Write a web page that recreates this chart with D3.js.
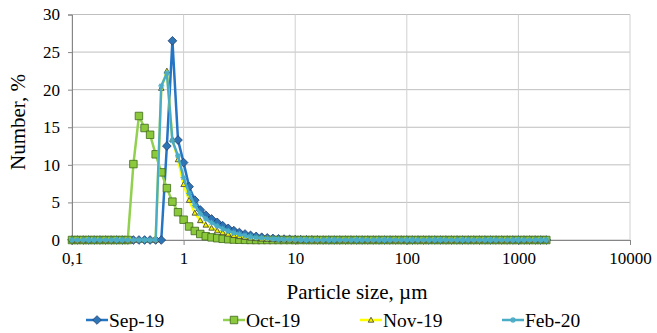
<!DOCTYPE html>
<html>
<head>
<meta charset="utf-8">
<script src="https://cdn.jsdelivr.net/npm/d3@7"></script>
<style>
  body { margin: 0; background: #fff; }
  svg { display: block; }
  text { font-family: "Liberation Serif", "Times New Roman", serif; fill: #000; }
</style>
</head>
<body>
<svg id="chart" width="657" height="333"></svg>
<script>
// Particle size bins (µm), 20 per decade
const sizes = [
  0.1, 0.112, 0.126, 0.141, 0.158, 0.178, 0.2, 0.224, 0.251, 0.282,
  0.316, 0.355, 0.398, 0.447, 0.501, 0.562, 0.631, 0.708, 0.794, 0.891,
  1, 1.12, 1.26, 1.41, 1.58, 1.78, 2, 2.24, 2.51, 2.82,
  3.16, 3.55, 3.98, 4.47, 5.01, 5.62, 6.31, 7.08, 7.94, 8.91,
  10, 11.2, 12.6, 14.1, 15.8, 17.8, 20, 22.4, 25.1, 28.2,
  31.6, 35.5, 39.8, 44.7, 50.1, 56.2, 63.1, 70.8, 79.4, 89.1,
  100, 112, 126, 141, 158, 178, 200, 224, 251, 282,
  316, 355, 398, 447, 501, 562, 631, 708, 794, 891,
  1000, 1122, 1259, 1413, 1585, 1778
];

// Number distribution (%) per sampling month
const sep19 = [
  0, 0, 0, 0, 0, 0, 0, 0, 0, 0,
  0, 0, 0, 0, 0, 0, 0, 12.5, 26.5, 13.3,
  10.3, 7.1, 5.3, 4.0, 3.3, 2.8, 2.35, 1.9, 1.55, 1.25,
  1.0, 0.8, 0.62, 0.48, 0.37, 0.28, 0.21, 0.16, 0.12, 0.09,
  0.06, 0.04, 0.03, 0.02, 0.01, 0, 0, 0, 0, 0,
  0, 0, 0, 0, 0, 0, 0, 0, 0, 0,
  0, 0, 0, 0, 0, 0, 0, 0, 0, 0,
  0, 0, 0, 0, 0, 0, 0, 0, 0, 0,
  0, 0, 0, 0, 0, 0
];
const oct19 = [
  0, 0, 0, 0, 0, 0, 0, 0, 0, 0,
  0, 10.1, 16.5, 14.9, 14.0, 11.4, 9.0, 6.9, 5.1, 3.7,
  2.7, 1.8, 1.2, 0.8, 0.5, 0.35, 0.24, 0.16, 0.1, 0.06,
  0.04, 0.02, 0.01, 0, 0, 0, 0, 0, 0, 0,
  0, 0, 0, 0, 0, 0, 0, 0, 0, 0,
  0, 0, 0, 0, 0, 0, 0, 0, 0, 0,
  0, 0, 0, 0, 0, 0, 0, 0, 0, 0,
  0, 0, 0, 0, 0, 0, 0, 0, 0, 0,
  0, 0, 0, 0, 0, 0
];
const nov19 = [
  0, 0, 0, 0, 0, 0, 0, 0, 0, 0,
  0, 0, 0, 0, 0, 0, 20.2, 22.5, 13.4, 10.7,
  7.4, 5.3, 3.6, 2.6, 2.0, 1.6, 1.25, 1.0, 0.8, 0.62,
  0.48, 0.37, 0.28, 0.21, 0.15, 0.11, 0.08, 0.05, 0.03, 0.02,
  0.01, 0, 0, 0, 0, 0, 0, 0, 0, 0,
  0, 0, 0, 0, 0, 0, 0, 0, 0, 0,
  0, 0, 0, 0, 0, 0, 0, 0, 0, 0,
  0, 0, 0, 0, 0, 0, 0, 0, 0, 0,
  0, 0, 0, 0, 0, 0
];
const feb20 = [
  0, 0, 0, 0, 0, 0, 0, 0, 0, 0,
  0, 0, 0, 0, 0, 0, 20.5, 22.2, 13.2, 11.2,
  8.3, 6.2, 4.6, 3.5, 2.8, 2.3, 1.85, 1.5, 1.2, 0.95,
  0.75, 0.58, 0.45, 0.34, 0.26, 0.2, 0.15, 0.11, 0.08, 0.05,
  0.03, 0.02, 0.01, 0, 0, 0, 0, 0, 0, 0,
  0, 0, 0, 0, 0, 0, 0, 0, 0, 0,
  0, 0, 0, 0, 0, 0, 0, 0, 0, 0,
  0, 0, 0, 0, 0, 0, 0, 0, 0, 0,
  0, 0, 0, 0, 0, 0
];

const seriesNames = ["Sep-19", "Oct-19", "Nov-19", "Feb-20"];
const xTickValues = [0.1, 1, 10, 100, 1000, 10000];
const xTickLabels = ["0,1", "1", "10", "100", "1000", "10000"];
const yTickValues = [0, 5, 10, 15, 20, 25, 30];

// Series appearance
const styles = [
  { line: "#2674c4", fill: "#2e75b6", stroke: "#1f3f6e", symbol: "diamond", size: 7.5 },
  { line: "#92d050", fill: "#8cc83c", stroke: "#3f6a1c", symbol: "square", size: 7.5 },
  { line: "#ffff00", fill: "#f2f200", stroke: "#3a3a3a", symbol: "triangle", size: 5.5 },
  { line: "#4bacc6", fill: "none", stroke: "#4bacc6", symbol: "asterisk", size: 6 }
];
const seriesValues = [sep19, oct19, nov19, feb20];

const svg = d3.select("#chart");
const plot = { left: 72, right: 630, top: 14.5, bottom: 240 };
const serif = "'Liberation Serif', 'Times New Roman', serif";

const x = d3.scaleLog().domain([0.1, 10000]).range([plot.left, plot.right]);
const y = d3.scaleLinear().domain([0, 30]).range([plot.bottom, plot.top]);

// Gridlines
svg.append("g").selectAll("line").data(yTickValues).join("line")
  .attr("x1", plot.left).attr("x2", plot.right)
  .attr("y1", d => y(d)).attr("y2", d => y(d))
  .attr("stroke", "#bfbfbf").attr("stroke-width", 1);
svg.append("g").selectAll("line").data(xTickValues).join("line")
  .attr("x1", d => x(d)).attr("x2", d => x(d))
  .attr("y1", plot.top).attr("y2", plot.bottom)
  .attr("stroke", "#d0d0d0").attr("stroke-width", 1);

// Axes
const yAxis = d3.axisLeft(y).tickValues(yTickValues).tickSize(4).tickPadding(8);
const gy = svg.append("g").attr("transform", `translate(${plot.left},0)`).call(yAxis)
  .attr("font-family", serif).attr("font-size", 17);
gy.select(".domain").attr("stroke", "#868686");
gy.selectAll(".tick line").attr("stroke", "#868686");

const xAxis = d3.axisBottom(x).tickValues(xTickValues)
  .tickFormat((d, i) => xTickLabels[i]).tickSize(5).tickPadding(7);
const gx = svg.append("g").attr("transform", `translate(0,${plot.bottom})`).call(xAxis)
  .attr("font-family", serif).attr("font-size", 17);
gx.select(".domain").attr("stroke", "#868686");
gx.selectAll(".tick line").attr("stroke", "#868686");

// Marker shape generator
function markerPath(kind, s) {
  const h = s / 2;
  if (kind === "diamond") return `M0,${-h - 0.6}L${h + 0.6},0L0,${h + 0.6}L${-h - 0.6},0Z`;
  if (kind === "square") return `M${-h},${-h}H${h}V${h}H${-h}Z`;
  if (kind === "triangle") return `M0,${-h}L${h},${h * 0.8}L${-h},${h * 0.8}Z`;
  // asterisk
  const a = h, b = h * 0.7;
  return `M${-a},0H${a}M0,${-a}V${a}M${-b},${-b}L${b},${b}M${-b},${b}L${b},${-b}`;
}

const line = d3.line().x(d => x(d[0])).y(d => y(d[1]));

seriesValues.forEach((vals, si) => {
  const st = styles[si];
  const pts = sizes.map((s, i) => [s, vals[i]]);
  const g = svg.append("g");
  g.append("path").datum(pts)
    .attr("d", line).attr("fill", "none")
    .attr("stroke", st.line).attr("stroke-width", 2.5)
    .attr("stroke-linejoin", "round");
  g.selectAll("path.m").data(pts).join("path").attr("class", "m")
    .attr("transform", d => `translate(${x(d[0])},${y(d[1])})`)
    .attr("d", markerPath(st.symbol, st.size))
    .attr("fill", st.fill).attr("stroke", st.stroke)
    .attr("stroke-width", st.symbol === "asterisk" ? 1.2 : 0.8);
});

// Axis titles
svg.append("text").attr("x", 357).attr("y", 299)
  .attr("text-anchor", "middle").style("font-size", "21px")
  .text("Particle size, µm");
svg.append("text")
  .attr("transform", "translate(25,122) rotate(-90)")
  .attr("text-anchor", "middle").style("font-size", "21px")
  .text("Number, %");

// Legend
const legendX = [86, 223, 360, 502];
const legend = svg.append("g");
seriesNames.forEach((name, i) => {
  const st = styles[i];
  const lg = legend.append("g").attr("transform", `translate(${legendX[i]},320)`);
  lg.append("line").attr("x1", 0).attr("x2", 22).attr("y1", 0).attr("y2", 0)
    .attr("stroke", st.line).attr("stroke-width", 2.5);
  lg.append("path").attr("transform", "translate(11,0)")
    .attr("d", markerPath(st.symbol, st.size))
    .attr("fill", st.fill).attr("stroke", st.stroke)
    .attr("stroke-width", st.symbol === "asterisk" ? 1.2 : 0.8);
  lg.append("text").attr("x", 23).attr("y", 6.5).style("font-size", "19.5px").text(name);
});
</script>
</body>
</html>
